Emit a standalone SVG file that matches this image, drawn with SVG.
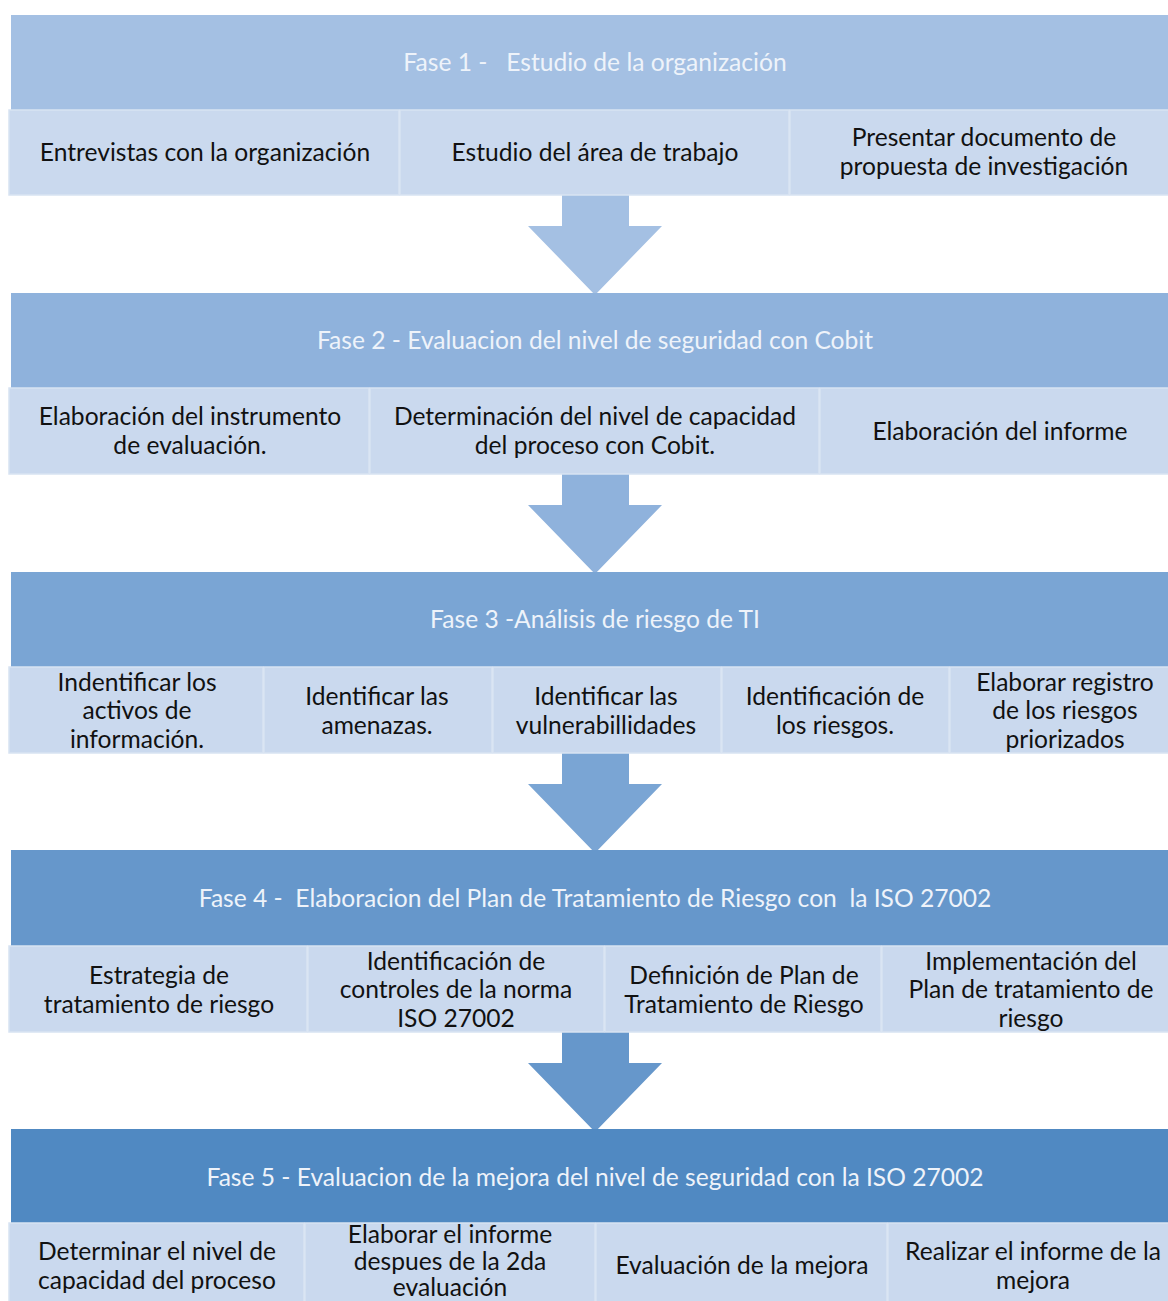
<svg xmlns="http://www.w3.org/2000/svg" width="1168" height="1301" viewBox="0 0 1168 1301">
<style>
.h1{fill:#A4C0E3}.h2{fill:#8FB2DC}.h3{fill:#7AA5D4}.h4{fill:#6697CB}.h5{fill:#5089C2}
.cell{fill:#CAD9EE;stroke:#D8E3F2;stroke-width:1.5}
.ht{font-family:Lato,"Liberation Sans",sans-serif;font-size:24.6px;fill:#EEF3FA;text-anchor:middle;white-space:pre}
.ct{font-family:Lato,"Liberation Sans",sans-serif;font-size:24.6px;fill:#111111;text-anchor:middle}
</style>
<rect width="1168" height="1301" fill="#FFFFFF"/>
<g id="connectors">
<polygon class="h1" points="562,195 629,195 629,226 662,226 595,295 528,226 562,226"/>
<polygon class="h2" points="562,474 629,474 629,505 662,505 595,574 528,505 562,505"/>
<polygon class="h3" points="562,752 629,752 629,784 662,784 595,853 528,784 562,784"/>
<polygon class="h4" points="562,1031 629,1031 629,1063 662,1063 595,1132 528,1063 562,1063"/>
</g>
<g id="fase1">
<rect class="h1" x="11" y="15" width="1170" height="95"/>
<text class="ht" x="595" y="71">Fase 1 -   Estudio de la organización</text>
</g>
<g id="fase1-a"><rect class="cell" x="9" y="110" width="390" height="85"/><text class="ct" x="205" y="161">Entrevistas con la organización</text></g>
<g id="fase1-b"><rect class="cell" x="400" y="110" width="389" height="85"/><text class="ct" x="595" y="161">Estudio del área de trabajo</text></g>
<g id="fase1-c"><rect class="cell" x="790" y="110" width="391" height="85"/><text class="ct" x="984" y="146">Presentar documento de</text><text class="ct" x="984" y="175">propuesta de investigación</text></g>

<g id="fase2">
<rect class="h2" x="11" y="293" width="1170" height="95"/>
<text class="ht" x="595" y="349">Fase 2 - Evaluacion del nivel de seguridad con Cobit</text>
</g>
<g id="fase2-a"><rect class="cell" x="9" y="388" width="360" height="86"/><text class="ct" x="190" y="425">Elaboración del instrumento</text><text class="ct" x="190" y="454">de evaluación.</text></g>
<g id="fase2-b"><rect class="cell" x="370" y="388" width="449" height="86"/><text class="ct" x="595" y="425">Determinación del nivel de capacidad</text><text class="ct" x="595" y="454">del proceso con Cobit.</text></g>
<g id="fase2-c"><rect class="cell" x="820" y="388" width="361" height="86"/><text class="ct" x="1000" y="440">Elaboración del informe</text></g>

<g id="fase3">
<rect class="h3" x="11" y="572" width="1170" height="95"/>
<text class="ht" x="595" y="628">Fase 3 -Análisis de riesgo de TI</text>
</g>
<g id="fase3-a"><rect class="cell" x="9" y="667" width="254" height="86"/><text class="ct" x="137" y="691">Indentificar los</text><text class="ct" x="137" y="719">activos de</text><text class="ct" x="137" y="748">información.</text></g>
<g id="fase3-b"><rect class="cell" x="264" y="667" width="228" height="86"/><text class="ct" x="377" y="705">Identificar las</text><text class="ct" x="377" y="734">amenazas.</text></g>
<g id="fase3-c"><rect class="cell" x="493" y="667" width="228" height="86"/><text class="ct" x="606" y="705">Identificar las</text><text class="ct" x="606" y="734">vulnerabillidades</text></g>
<g id="fase3-d"><rect class="cell" x="722" y="667" width="227" height="86"/><text class="ct" x="835" y="705">Identificación de</text><text class="ct" x="835" y="734">los riesgos.</text></g>
<g id="fase3-e"><rect class="cell" x="950" y="667" width="231" height="86"/><text class="ct" x="1065" y="691">Elaborar registro</text><text class="ct" x="1065" y="719">de los riesgos</text><text class="ct" x="1065" y="748">priorizados</text></g>

<g id="fase4">
<rect class="h4" x="11" y="850" width="1170" height="96"/>
<text class="ht" x="595" y="907">Fase 4 -  Elaboracion del Plan de Tratamiento de Riesgo con  la ISO 27002</text>
</g>
<g id="fase4-a"><rect class="cell" x="9" y="946" width="298" height="86"/><text class="ct" x="159" y="984">Estrategia de</text><text class="ct" x="159" y="1013">tratamiento de riesgo</text></g>
<g id="fase4-b"><rect class="cell" x="308" y="946" width="296" height="86"/><text class="ct" x="456" y="970">Identificación de</text><text class="ct" x="456" y="998">controles de la norma</text><text class="ct" x="456" y="1027">ISO 27002</text></g>
<g id="fase4-c"><rect class="cell" x="605" y="946" width="276" height="86"/><text class="ct" x="744" y="984">Definición de Plan de</text><text class="ct" x="744" y="1013">Tratamiento de Riesgo</text></g>
<g id="fase4-d"><rect class="cell" x="882" y="946" width="299" height="86"/><text class="ct" x="1031" y="970">Implementación del</text><text class="ct" x="1031" y="998">Plan de tratamiento de</text><text class="ct" x="1031" y="1027">riesgo</text></g>

<g id="fase5">
<rect class="h5" x="11" y="1129" width="1170" height="94"/>
<text class="ht" x="595" y="1186">Fase 5 - Evaluacion de la mejora del nivel de seguridad con la ISO 27002</text>
</g>
<g id="fase5-a"><rect class="cell" x="9" y="1223" width="295" height="86"/><text class="ct" x="157" y="1260">Determinar el nivel de</text><text class="ct" x="157" y="1289">capacidad del proceso</text></g>
<g id="fase5-b"><rect class="cell" x="305" y="1223" width="290" height="86"/><text class="ct" x="450" y="1243">Elaborar el informe</text><text class="ct" x="450" y="1270">despues de la 2da</text><text class="ct" x="450" y="1296">evaluación</text></g>
<g id="fase5-c"><rect class="cell" x="596" y="1223" width="291" height="86"/><text class="ct" x="742" y="1274">Evaluación de la mejora</text></g>
<g id="fase5-d"><rect class="cell" x="888" y="1223" width="293" height="86"/><text class="ct" x="1033" y="1260">Realizar el informe de la</text><text class="ct" x="1033" y="1289">mejora</text></g>
</svg>
